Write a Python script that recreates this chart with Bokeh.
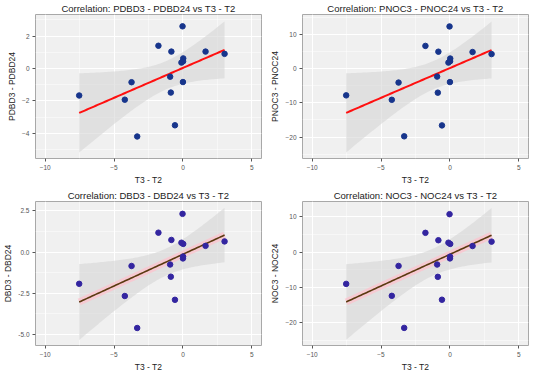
import numpy as np
from bokeh.plotting import figure
from bokeh.layouts import gridplot
from bokeh.models import FixedTicker, Range1d, PrintfTickFormatter
from bokeh.embed import file_html
from bokeh.resources import INLINE

# T3 - T2 (shared x values)
t3_t2 = [-7.53, -4.22, -3.73, -3.32, -1.78, -0.84, -0.93, -0.88,
         -0.58, -0.03, 0.02, 0.01, -0.11, 0.0, 1.64, 3.02]
pdbd = [-1.67, -1.93, -0.85, -4.20, 1.40, 1.04, -0.51, -1.49,
        -3.51, 2.60, 0.62, 0.44, 0.36, -0.84, 1.04, 0.90]
pnoc = [-7.8, -9.1, -4.05, -19.8, 6.7, 5.0, -2.3, -7.0,
        -16.6, 12.4, 3.0, 2.2, 1.8, -3.9, 4.9, 4.3]
dbd = [-1.92, -2.66, -0.84, -4.60, 1.18, 0.74, -0.75, -1.49,
       -2.89, 2.32, 0.50, -0.27, 0.57, -0.38, 0.38, 0.65]
noc = [-9.0, -12.4, -3.9, -21.5, 5.5, 3.4, -3.5, -7.0,
       -13.5, 10.8, 2.35, -1.26, 2.7, -1.76, 1.76, 3.0]

x_ticks = [-10, -5, 0, 5]
panels = [
    dict(title="Correlation: PDBD3 - PDBD24 vs T3 - T2", ylab="PDBD3 - PDBD24", y=pdbd,
         yticks=[-4, -2, 0, 2], yr=(-5.56, 3.33), fmt=None, pt="#17358C", line="red"),
    dict(title="Correlation: PNOC3 - PNOC24 vs T3 - T2", ylab="PNOC3 - PNOC24", y=pnoc,
         yticks=[-20, -10, 0, 10], yr=(-26.3, 15.9), fmt=None, pt="#17358C", line="red"),
    dict(title="Correlation: DBD3 - DBD24 vs T3 - T2", ylab="DBD3 - DBD24", y=dbd,
         yticks=[-5.0, -2.5, 0.0, 2.5], yr=(-5.66, 3.07), fmt="%.1f", pt="#3325A0", line="brown"),
    dict(title="Correlation: NOC3 - NOC24 vs T3 - T2", ylab="NOC3 - NOC24", y=noc,
         yticks=[-20, -10, 0, 10], yr=(-26.5, 14.4), fmt=None, pt="#3325A0", line="brown"),
]

T_CRIT = 2.145  # t(0.975, df=14)
FONT = "Liberation Sans"

figs = []
for pn in panels:
    x = np.array(t3_t2, dtype=float)
    y = np.array(pn["y"], dtype=float)
    n = len(x)
    xb, yb = x.mean(), y.mean()
    sxx = ((x - xb) ** 2).sum()
    b = ((x - xb) * (y - yb)).sum() / sxx
    a = yb - b * xb
    resid = y - (a + b * x)
    s = np.sqrt((resid ** 2).sum() / (n - 2))
    xs = np.linspace(x.min(), x.max(), 80)
    fit = a + b * xs
    se = s * np.sqrt(1.0 / n + (xs - xb) ** 2 / sxx)

    p = figure(width=267, height=187, output_backend="svg", toolbar_location=None,
               x_range=Range1d(-10.7, 5.7), y_range=Range1d(*pn["yr"]),
               title=pn["title"], background_fill_color="#F0F0F0",
               border_fill_color="white", min_border_left=24, min_border_right=6,
               min_border_top=2, min_border_bottom=4)
    p.title.align = "center"
    p.title.text_font = FONT
    p.title.text_font_size = "9.5px"
    p.title.text_font_style = "normal"
    p.title.text_color = "#222222"
    p.title.standoff = 1
    p.outline_line_color = "#A8A8A8"
    p.outline_line_width = 1

    p.xaxis.ticker = FixedTicker(ticks=x_ticks, minor_ticks=[-7.5, -2.5, 2.5])
    yt = pn["yticks"]
    step = yt[1] - yt[0]
    p.yaxis.ticker = FixedTicker(ticks=yt,
                                 minor_ticks=[(yt[i] + yt[i + 1]) / 2 for i in range(len(yt) - 1)]
                                 + [yt[0] - step / 2, yt[-1] + step / 2])
    if pn["fmt"]:
        p.yaxis.formatter = PrintfTickFormatter(format=pn["fmt"])
    p.xaxis.axis_label = "T3 - T2"
    p.yaxis.axis_label = pn["ylab"]
    for ax in (p.xaxis[0], p.yaxis[0]):
        ax.axis_line_color = None
        ax.major_tick_line_color = "#555555"
        ax.major_tick_out = 3
        ax.major_tick_in = 0
        ax.minor_tick_line_color = None
        ax.major_label_text_font = FONT
        ax.major_label_text_font_size = "6.5px"
        ax.major_label_text_color = "#555555"
        ax.major_label_standoff = 2
        ax.axis_label_text_font = FONT
        ax.axis_label_text_font_size = "8.5px"
        ax.axis_label_text_font_style = "normal"
        ax.axis_label_text_color = "#222222"
        ax.axis_label_standoff = 2
    p.grid.grid_line_color = "white"
    p.grid.grid_line_width = 1
    p.grid.minor_grid_line_color = "white"
    p.grid.minor_grid_line_width = 0.5

    p.varea(x=xs, y1=fit - T_CRIT * se, y2=fit + T_CRIT * se, fill_color="#D6D6D6", fill_alpha=0.6)
    if pn["line"] == "red":
        p.line(xs, fit, line_color="#FF1010", line_width=2)
    else:
        p.line(xs, fit, line_color="#FFC0CC", line_width=7, line_alpha=0.7)
        p.line(xs, fit, line_color="#5A3A10", line_width=1.6)
    p.scatter(x, y, size=5.5, fill_color=pn["pt"], line_color=pn["pt"])
    figs.append(p)

grid = gridplot([[figs[0], figs[1]], [figs[2], figs[3]]], toolbar_location=None)
open("out.html", "w").write(file_html(grid, INLINE))
